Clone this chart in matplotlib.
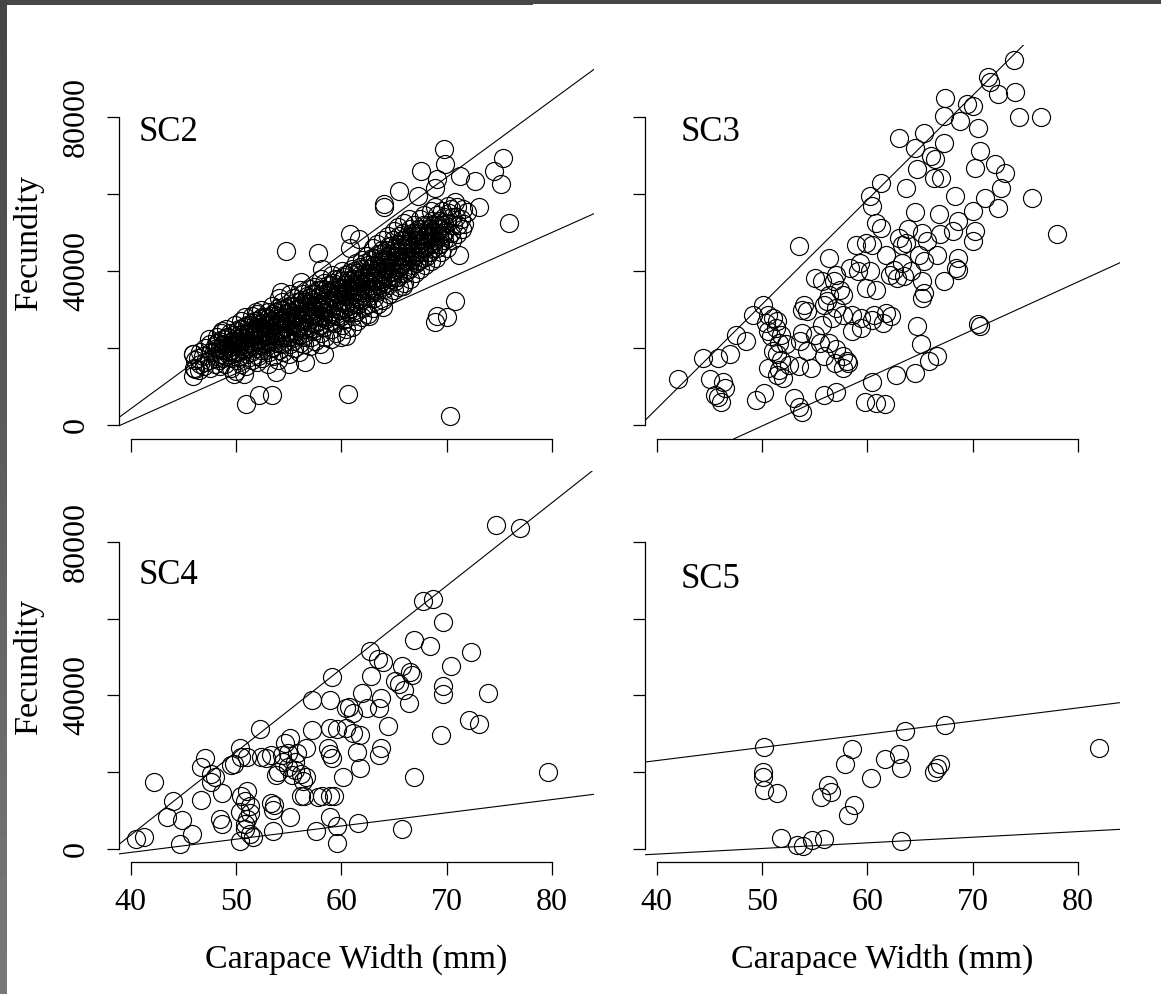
import matplotlib
matplotlib.use("Agg")
import matplotlib.pyplot as plt
import numpy as np

plt.rcParams['font.family'] = ['Liberation Serif', 'DejaVu Serif']

# carapace width (mm) and fecundity (thousands of eggs)
sc2_cw = [
    46.0, 46.1, 45.9,
    46.5, 46.6, 46.4, 46.6,
    47.0, 47.1, 46.9, 47.1,
    47.5, 47.4, 47.6, 47.5, 47.4,
    48.0, 48.1, 47.9, 48.0, 48.2,
    48.5, 48.4, 48.6, 48.5, 48.4, 48.6,
    49.0, 49.1, 48.9, 49.0, 49.2, 49.1,
    49.5, 49.6, 49.4, 49.5, 49.6, 49.4,
    50.0, 50.1, 49.9, 50.0, 50.2, 50.1, 49.9,
    50.5, 50.4, 50.6, 50.5, 50.4, 50.6, 50.5,
    51.0, 51.1, 50.9, 51.0, 51.2, 51.1, 50.9,
    51.5, 51.4, 51.6, 51.5, 51.4, 51.6, 51.5,
    52.0, 52.1, 51.9, 52.0, 52.2, 52.1, 51.9, 52.0,
    52.5, 52.4, 52.6, 52.5, 52.4, 52.6, 52.5, 52.4,
    53.0, 53.1, 52.9, 53.0, 53.2, 53.1, 52.9, 53.0,
    53.5, 53.4, 53.6, 53.5, 53.4, 53.6, 53.5, 53.4,
    54.0, 54.1, 53.9, 54.0, 54.2, 54.1, 53.9, 54.0, 54.1,
    54.5, 54.4, 54.6, 54.5, 54.4, 54.6, 54.5, 54.4,
    55.0, 55.1, 54.9, 55.0, 55.2, 55.1, 54.9, 55.0, 55.1,
    55.5, 55.4, 55.6, 55.5, 55.4, 55.6, 55.5, 55.4,
    56.0, 56.1, 55.9, 56.0, 56.2, 56.1, 55.9, 56.0, 56.1,
    56.5, 56.4, 56.6, 56.5, 56.4, 56.6, 56.5, 56.4,
    57.0, 57.1, 56.9, 57.0, 57.2, 57.1, 56.9, 57.0,
    57.5, 57.4, 57.6, 57.5, 57.4, 57.6, 57.5, 57.4,
    58.0, 58.1, 57.9, 58.0, 58.2, 58.1, 57.9, 58.0, 58.1,
    58.5, 58.4, 58.6, 58.5, 58.4, 58.6, 58.5, 58.4,
    59.0, 59.1, 58.9, 59.0, 59.2, 59.1, 58.9, 59.0, 59.1,
    59.5, 59.4, 59.6, 59.5, 59.4, 59.6, 59.5, 59.4,
    60.0, 60.1, 59.9, 60.0, 60.2, 60.1, 59.9, 60.0, 60.1,
    60.5, 60.4, 60.6, 60.5, 60.4, 60.6, 60.5, 60.4,
    61.0, 61.1, 60.9, 61.0, 61.2, 61.1, 60.9, 61.0,
    61.5, 61.4, 61.6, 61.5, 61.4, 61.6, 61.5, 61.4,
    62.0, 62.1, 61.9, 62.0, 62.2, 62.1, 61.9, 62.0,
    62.5, 62.4, 62.6, 62.5, 62.4, 62.6, 62.5, 62.4,
    63.0, 63.1, 62.9, 63.0, 63.2, 63.1, 62.9, 63.0,
    63.5, 63.4, 63.6, 63.5, 63.4, 63.6, 63.5, 63.4,
    64.0, 64.1, 63.9, 64.0, 64.2, 64.1, 63.9, 64.0,
    64.5, 64.4, 64.6, 64.5, 64.4, 64.6, 64.5, 64.4,
    65.0, 65.1, 64.9, 65.0, 65.2, 65.1, 64.9, 65.0,
    65.5, 65.4, 65.6, 65.5, 65.4, 65.6, 65.5, 65.4,
    66.0, 66.1, 65.9, 66.0, 66.2, 66.1, 65.9, 66.0,
    66.5, 66.4, 66.6, 66.5, 66.4, 66.6, 66.5, 66.4,
    67.0, 67.1, 66.9, 67.0, 67.2, 67.1, 66.9,
    67.5, 67.4, 67.6, 67.5, 67.4, 67.6, 67.5,
    68.0, 68.1, 67.9, 68.0, 68.2, 68.1, 67.9,
    68.5, 68.4, 68.6, 68.5, 68.4, 68.6, 68.5,
    69.0, 69.1, 68.9, 69.0, 69.2, 69.1, 68.9,
    69.5, 69.4, 69.6, 69.5, 69.4, 69.6,
    70.0, 70.1, 69.9, 70.0, 70.2, 70.1,
    70.5, 70.4, 70.6, 70.5, 70.4,
    71.0, 71.1, 70.9, 71.0,
    71.5, 71.4, 71.6,
    # scattered points around the band
    69.75, 69.9, 75.4, 74.5, 75.2, 75.9, 73.1, 72.7, 71.3, 67.6, 69.1, 68.9,
    65.5, 64.1, 64.1, 67.3, 70.8, 71.9, 71.7, 71.2, 70.8, 68.9, 70.0, 69.1,
    70.3, 60.6, 54.8, 57.8, 60.8, 60.8, 52.2, 53.4, 51.0, 45.9, 45.9, 46.1,
    48.7, 49.8, 50.8, 53.8, 55.0, 56.6, 58.4, 60.5, 62.6, 64.0, 65.9, 54.3,
    51.9, 56.2, 58.2, 61.7,
    # dense core of the band
    48.25, 48.25, 48.25,
    48.75, 48.75, 48.75, 48.75,
    49.25, 49.25, 49.25, 49.25,
    49.75, 49.75, 49.75, 49.75,
    50.25, 50.25, 50.25, 50.25, 50.25,
    50.75, 50.75, 50.75, 50.75, 50.75,
    51.25, 51.25, 51.25, 51.25, 51.25,
    51.75, 51.75, 51.75, 51.75, 51.75,
    52.25, 52.25, 52.25, 52.25, 52.25,
    52.75, 52.75, 52.75, 52.75, 52.75,
    53.25, 53.25, 53.25, 53.25, 53.25,
    53.75, 53.75, 53.75, 53.75, 53.75,
    54.25, 54.25, 54.25, 54.25, 54.25,
    54.75, 54.75, 54.75, 54.75, 54.75,
    55.25, 55.25, 55.25, 55.25, 55.25,
    55.75, 55.75, 55.75, 55.75, 55.75,
    56.25, 56.25, 56.25, 56.25, 56.25,
    56.75, 56.75, 56.75, 56.75, 56.75,
    57.25, 57.25, 57.25, 57.25, 57.25,
    57.75, 57.75, 57.75, 57.75, 57.75,
    58.25, 58.25, 58.25, 58.25, 58.25,
    58.75, 58.75, 58.75, 58.75, 58.75,
    59.25, 59.25, 59.25, 59.25, 59.25,
    59.75, 59.75, 59.75, 59.75, 59.75,
    60.25, 60.25, 60.25, 60.25, 60.25,
    60.75, 60.75, 60.75, 60.75, 60.75,
    61.25, 61.25, 61.25, 61.25, 61.25,
    61.75, 61.75, 61.75, 61.75, 61.75,
    62.25, 62.25, 62.25, 62.25, 62.25,
    62.75, 62.75, 62.75, 62.75, 62.75,
    63.25, 63.25, 63.25, 63.25, 63.25,
    63.75, 63.75, 63.75, 63.75, 63.75,
    64.25, 64.25, 64.25, 64.25, 64.25,
    64.75, 64.75, 64.75, 64.75, 64.75,
    65.25, 65.25, 65.25, 65.25, 65.25,
    65.75, 65.75, 65.75, 65.75, 65.75,
    66.25, 66.25, 66.25, 66.25, 66.25,
    66.75, 66.75, 66.75, 66.75, 66.75,
    67.25, 67.25, 67.25, 67.25, 67.25,
    67.75, 67.75, 67.75, 67.75, 67.75,
    68.25, 68.25, 68.25, 68.25,
    68.75, 68.75, 68.75, 68.75,
    69.25, 69.25, 69.25, 69.25,
    69.75, 69.75, 69.75, 69.75,
]
sc2_fec = [
    15.0, 17.0, 18.5,
    14.5, 16.0, 17.5, 19.0,
    15.5, 16.5, 18.0, 20.0,
    15.0, 17.0, 19.0, 21.0, 22.5,
    16.0, 17.5, 19.0, 20.5, 23.0,
    15.5, 17.0, 18.5, 20.0, 22.0, 24.0,
    16.0, 18.0, 19.5, 21.0, 23.0, 25.0,
    15.0, 17.5, 19.0, 20.5, 22.0, 24.0,
    14.0, 17.0, 19.0, 21.0, 22.5, 24.5, 26.0,
    16.0, 18.0, 20.0, 21.5, 23.0, 25.0, 27.0,
    15.5, 18.5, 20.5, 22.0, 24.0, 26.0, 28.0,
    17.0, 19.0, 21.0, 23.0, 24.5, 26.5, 28.5,
    16.5, 18.0, 20.0, 22.0, 23.5, 25.0, 27.0, 29.0,
    17.5, 19.5, 21.5, 23.0, 25.0, 26.5, 28.0, 30.0,
    16.0, 19.0, 21.0, 22.5, 24.0, 26.0, 28.0, 29.5,
    18.0, 20.0, 22.0, 24.0, 25.5, 27.0, 29.0, 31.0,
    17.0, 19.5, 21.5, 23.5, 25.0, 27.0, 28.5, 30.5, 33.0,
    19.0, 21.0, 23.0, 25.0, 26.5, 28.0, 30.0, 32.0,
    18.5, 21.0, 23.0, 24.5, 26.0, 28.0, 29.5, 31.0, 34.0,
    20.0, 22.0, 24.0, 26.0, 27.5, 29.0, 31.0, 33.0,
    19.0, 21.5, 23.5, 25.5, 27.0, 29.0, 30.5, 32.0, 35.0,
    21.0, 23.0, 25.0, 27.0, 28.5, 30.0, 32.0, 34.0,
    20.5, 23.0, 25.5, 27.5, 29.0, 31.0, 33.0, 35.5,
    22.0, 24.5, 26.5, 28.5, 30.0, 32.0, 34.0, 36.0,
    21.0, 24.0, 26.0, 28.0, 30.0, 31.5, 33.5, 35.0, 38.0,
    23.0, 25.5, 27.5, 29.5, 31.0, 33.0, 35.0, 37.0,
    22.5, 25.0, 27.0, 29.0, 31.0, 33.0, 34.5, 36.5, 39.0,
    24.0, 26.5, 28.5, 30.5, 32.5, 34.0, 36.0, 38.0,
    23.0, 26.0, 28.0, 30.0, 32.0, 34.0, 35.5, 37.5, 40.0,
    25.0, 27.5, 29.5, 31.5, 33.5, 35.0, 37.0, 39.0,
    25.5, 28.5, 30.5, 32.5, 34.5, 36.5, 38.0, 40.5,
    27.0, 29.5, 31.5, 33.5, 35.5, 37.5, 39.5, 42.0,
    28.0, 30.5, 32.5, 34.5, 36.5, 38.5, 40.5, 43.0,
    29.0, 31.5, 33.5, 35.5, 37.5, 39.5, 41.5, 44.0,
    30.5, 33.0, 35.5, 37.5, 39.5, 41.5, 43.5, 46.0,
    31.5, 34.5, 36.5, 38.5, 40.5, 42.5, 44.5, 47.0,
    32.5, 35.5, 37.5, 39.5, 41.5, 43.5, 45.5, 48.0,
    34.0, 36.5, 38.5, 40.5, 42.5, 44.5, 46.5, 49.0,
    35.0, 37.5, 40.0, 42.0, 44.0, 46.0, 48.0, 50.5,
    36.0, 38.5, 41.0, 43.0, 45.0, 47.0, 49.0, 51.5,
    37.0, 39.5, 42.0, 44.0, 46.0, 48.0, 50.0, 52.5,
    38.0, 40.5, 43.0, 45.0, 47.0, 49.0, 51.0, 53.5,
    39.5, 42.0, 44.0, 46.0, 48.0, 50.0, 52.0,
    40.5, 43.0, 45.0, 47.0, 49.0, 51.0, 53.5,
    41.5, 44.0, 46.0, 48.0, 50.0, 52.0, 54.5,
    42.5, 45.0, 47.0, 49.0, 51.0, 53.0, 55.5,
    43.5, 46.0, 48.0, 50.0, 52.0, 54.5, 56.5,
    45.0, 47.0, 49.0, 51.0, 53.0, 55.5,
    46.0, 48.5, 50.5, 52.5, 55.0, 57.0,
    48.0, 50.0, 52.0, 54.0, 56.0,
    49.5, 52.0, 54.0, 56.5,
    51.0, 53.5, 56.0,
    71.7, 67.7, 69.4, 65.9, 62.5, 52.4, 56.5, 63.4, 64.7, 65.9, 63.8, 61.6,
    60.8, 57.3, 56.5, 59.5, 57.8, 55.2, 52.2, 44.1, 32.3, 26.7, 28.0, 28.4,
    2.4, 8.2, 45.3, 44.8, 49.6, 46.1, 7.8, 7.8, 5.6, 18.5, 12.9, 14.7,
    24.6, 13.4, 13.4, 13.8, 15.9, 16.4, 18.5, 23.3, 28.4, 30.6, 36.2, 34.5,
    29.3, 37.1, 40.5, 48.3,
    18.0, 20.0, 21.5,
    17.5, 19.5, 21.0, 22.5,
    18.5, 20.0, 21.5, 23.0,
    19.0, 20.5, 22.0, 23.5,
    19.0, 20.5, 22.0, 23.5, 25.0,
    19.5, 21.0, 22.5, 24.0, 25.5,
    20.0, 21.5, 23.0, 24.5, 26.0,
    20.5, 22.0, 23.5, 25.0, 27.0,
    21.0, 22.5, 24.0, 25.5, 27.5,
    21.5, 23.0, 24.5, 26.0, 28.0,
    22.0, 23.5, 25.0, 27.0, 28.5,
    22.5, 24.0, 26.0, 27.5, 29.5,
    23.0, 24.5, 26.5, 28.0, 30.0,
    23.5, 25.5, 27.0, 29.0, 30.5,
    24.0, 26.0, 27.5, 29.5, 31.0,
    24.5, 26.5, 28.5, 30.0, 32.0,
    25.0, 27.0, 29.0, 31.0, 32.5,
    26.0, 28.0, 29.5, 31.5, 33.5,
    26.5, 28.5, 30.5, 32.5, 34.0,
    27.0, 29.0, 31.0, 33.0, 35.0,
    28.0, 30.0, 32.0, 34.0, 35.5,
    28.5, 30.5, 32.5, 34.5, 36.5,
    29.0, 31.0, 33.0, 35.0, 37.0,
    30.0, 32.0, 34.0, 36.0, 38.0,
    30.5, 32.5, 34.5, 36.5, 38.5,
    31.0, 33.5, 35.5, 37.5, 39.5,
    32.0, 34.0, 36.0, 38.0, 40.0,
    33.0, 35.0, 37.0, 39.0, 41.0,
    33.5, 35.5, 37.5, 39.5, 42.0,
    34.5, 36.5, 38.5, 40.5, 43.0,
    35.0, 37.5, 39.5, 41.5, 43.5,
    36.0, 38.0, 40.0, 42.5, 44.5,
    37.0, 39.0, 41.0, 43.0, 45.5,
    38.0, 40.0, 42.0, 44.0, 46.5,
    38.5, 41.0, 43.0, 45.0, 47.0,
    39.5, 42.0, 44.0, 46.0, 48.0,
    40.5, 43.0, 45.0, 47.0, 49.0,
    41.5, 44.0, 46.0, 48.0, 50.0,
    42.5, 45.0, 47.0, 49.0, 51.0,
    43.5, 46.0, 48.0, 50.0, 52.0,
    45.0, 47.0, 49.0, 51.0,
    46.0, 48.0, 50.0, 52.0,
    47.0, 49.0, 51.0, 53.0,
    48.0, 50.0, 52.0, 54.0,
]

sc3_cw = [
    73.9, 71.5, 71.7, 72.4, 74.0, 74.4, 76.5, 67.4, 69.5, 70.0, 67.3, 68.8,
    70.5, 65.4, 63.0, 67.3, 64.5, 66.1, 66.4, 70.7, 70.2, 72.1, 73.1, 64.7,
    66.3, 67.0, 61.3, 63.7, 60.3, 68.3, 71.2, 72.7, 75.6, 72.4, 64.5, 66.8,
    70.0, 60.5, 68.6, 60.8, 63.9, 61.3, 68.1, 70.2, 65.2, 66.9, 63.0, 63.7,
    63.3, 59.9, 58.9, 60.5, 65.7, 70.0, 78.0, 64.9, 66.6, 68.6, 68.4, 68.6,
    61.8, 63.3, 65.4, 59.3, 56.4, 53.5, 62.5, 62.2, 62.8, 63.5, 64.2, 65.2,
    65.4, 65.2, 67.3, 60.3, 59.1, 59.9, 60.8, 58.4, 57.0, 55.0, 55.7, 56.8,
    57.4, 56.4, 57.7, 54.0, 53.8, 54.3, 55.9, 56.2, 57.0, 57.7, 58.6, 59.4,
    60.6, 61.8, 62.3, 61.5, 60.5, 59.4, 58.6, 56.7, 55.7, 55.0, 53.8, 50.1,
    49.2, 50.6, 51.1, 51.4, 50.4, 51.3, 50.6, 50.9, 51.8, 51.6, 52.3, 51.1,
    51.4, 51.8, 50.6, 51.6, 51.4, 52.0, 52.6, 53.5, 54.7, 53.6, 54.3, 55.5,
    56.4, 57.0, 55.9, 56.9, 57.7, 58.2, 57.7, 58.1, 48.5, 47.5, 47.0, 45.8,
    44.4, 42.0, 45.1, 46.3, 46.5, 45.5, 45.8, 46.1, 49.4, 50.2, 53.0, 53.5,
    53.8, 55.9, 57.0, 59.8, 60.8, 61.7, 60.5, 62.7, 64.5, 65.9, 66.6, 65.1,
    64.7, 70.5, 70.7,
]
sc3_fec = [
    94.8, 90.2, 88.9, 85.9, 86.3, 80.0, 80.0, 84.8, 83.3, 82.9, 80.3, 79.0,
    77.2, 75.9, 74.6, 73.3, 72.0, 69.9, 69.0, 71.2, 66.8, 67.7, 65.5, 66.4,
    64.2, 64.2, 62.9, 61.6, 59.5, 59.5, 59.0, 61.6, 59.0, 56.4, 55.2, 54.7,
    55.6, 56.9, 53.0, 52.6, 50.8, 51.3, 50.4, 50.4, 50.0, 49.5, 48.7, 47.4,
    46.9, 47.4, 46.9, 46.9, 47.8, 47.8, 49.5, 44.3, 44.3, 43.5, 40.9, 40.4,
    44.3, 42.2, 42.6, 42.2, 43.5, 46.5, 40.4, 39.1, 38.3, 38.7, 40.0, 37.4,
    34.4, 33.1, 37.4, 40.0, 40.0, 35.7, 35.2, 40.9, 39.1, 38.3, 37.4, 37.4,
    35.2, 33.9, 33.9, 31.3, 30.0, 29.6, 31.3, 32.2, 30.5, 28.7, 28.7, 27.9,
    28.7, 29.2, 28.3, 26.6, 27.4, 25.3, 24.4, 27.9, 26.1, 23.5, 24.0, 31.3,
    28.7, 28.7, 27.9, 27.0, 26.6, 25.3, 24.4, 23.1, 23.5, 21.4, 21.0, 19.2,
    18.4, 17.1, 14.9, 14.5, 13.2, 12.3, 15.8, 15.3, 14.9, 21.8, 19.2, 21.4,
    21.4, 19.7, 17.9, 16.2, 17.9, 16.2, 14.9, 16.6, 21.8, 23.5, 18.4, 17.5,
    17.5, 12.1, 12.1, 11.4, 9.7, 8.0, 7.3, 6.2, 6.7, 8.4, 7.1, 4.9,
    3.6, 8.0, 8.8, 6.2, 5.8, 5.5, 11.4, 13.2, 13.6, 16.6, 17.9, 21.0,
    25.7, 26.3, 25.7,
]

sc4_cw = [
    74.65, 76.98, 67.8, 68.7, 69.7, 66.9, 68.4, 72.3, 70.4, 69.7, 69.7, 73.9,
    72.1, 73.1, 69.5, 79.6, 66.9, 65.8, 62.7, 63.5, 64.0, 65.8, 66.7, 65.1,
    65.5, 66.0, 66.4, 62.8, 62.0, 63.8, 63.6, 64.4, 63.8, 63.6, 61.8, 61.5,
    61.8, 60.5, 61.1, 62.4, 59.6, 60.5, 59.1, 58.9, 57.2, 57.2, 58.9, 58.7,
    58.9, 59.1, 60.2, 59.3, 58.2, 56.5, 56.7, 56.2, 56.4, 55.6, 55.6, 55.1,
    54.7, 54.9, 54.4, 54.5, 54.0, 53.8, 54.9, 55.3, 56.7, 55.8, 52.9, 52.4,
    52.3, 53.3, 53.3, 53.6, 53.5, 53.5, 55.1, 51.3, 51.1, 50.9, 50.9, 51.3,
    51.6, 50.4, 50.5, 51.1, 50.4, 51.3, 50.9, 49.5, 49.8, 50.4, 50.5, 51.1,
    48.7, 48.5, 48.7, 48.0, 47.6, 47.6, 46.7, 47.1, 46.7, 45.8, 44.7, 44.9,
    44.0, 43.5, 42.2, 40.5, 41.3, 59.6, 59.6, 58.9, 57.6, 61.6, 58.9, 66.5,
    60.7, 61.1, 56.2, 57.8,
]
sc4_fec = [
    84.5, 83.8, 64.7, 65.1, 59.2, 54.6, 53.0, 51.4, 47.6, 42.4, 40.4, 40.6,
    33.6, 32.5, 29.6, 20.1, 18.8, 5.1, 51.7, 49.6, 48.7, 47.8, 45.3, 43.8,
    42.9, 41.5, 37.9, 45.1, 40.6, 39.3, 36.6, 32.1, 26.2, 24.4, 29.7, 25.3,
    21.0, 36.6, 35.4, 36.6, 31.2, 31.6, 44.9, 38.7, 38.8, 30.9, 31.6, 26.2,
    24.6, 23.7, 18.6, 13.7, 13.8, 13.8, 18.6, 19.5, 17.7, 22.7, 20.4, 28.9,
    27.6, 24.9, 24.5, 22.7, 20.0, 19.1, 21.3, 19.1, 26.2, 24.9, 23.6, 24.0,
    31.2, 24.5, 11.9, 11.4, 10.1, 4.7, 8.3, 11.0, 7.8, 6.5, 5.1, 3.8,
    2.9, 2.0, 13.7, 15.0, 9.6, 9.2, 12.3, 21.8, 22.2, 26.2, 24.0, 24.0,
    14.6, 7.6, 6.5, 18.6, 19.5, 17.3, 21.3, 23.6, 12.8, 3.8, 1.1, 7.4,
    12.3, 8.3, 17.3, 2.4, 2.9, 1.5, 6.0, 8.3, 4.7, 6.7, 13.7, 46.0,
    37.0, 30.3, 13.7, 13.4,
]

sc5_cw = [
    50.2, 50.1, 50.1, 50.2, 51.4, 51.8, 53.3, 53.9, 54.8, 55.9, 55.6, 56.3,
    56.6, 58.7, 58.2, 57.9, 58.6, 60.4, 61.7, 63.0, 63.2, 63.6, 63.2, 66.3,
    66.6, 66.9, 67.4, 82.0,
]
sc5_fec = [
    26.5, 19.9, 18.7, 15.4, 14.5, 2.7, 0.9, 0.6, 2.3, 2.4, 13.6, 16.5,
    14.9, 11.3, 8.8, 22.2, 26.0, 18.4, 23.5, 24.6, 21.0, 30.7, 2.1, 19.9,
    21.1, 22.2, 32.4, 26.2,
]

# fitted lines per panel: (intercept, slope) in thousands of eggs
sc2_lines = [(-75.7, 2.00), (-47.5, 1.219)]
sc3_lines = [(-104.0, 2.707), (-62.4, 1.245)]
sc4_lines = [(-83.3, 2.17), (-14.8, 0.345)]
sc5_lines = [(9.22, 0.344), (-7.32, 0.147)]

panel_names = ["SC2", "SC3", "SC4", "SC5"]
label_pos = [(40.8, 76.0), (42.3, 75.8), (40.8, 71.2), (42.3, 70.3)]

x_ticks = [40, 50, 60, 70, 80]
y_ticks = [0, 20000, 40000, 60000, 80000]
y_ticklabels = ["0", "", "40000", "", "80000"]

W, H = 1161, 994
fig = plt.figure(figsize=(W / 100, H / 100), dpi=100)

# screenshot border strips
strip_top = fig.add_axes([0, 1 - 5 / H, 533 / W, 5 / H])
strip_top.axis("off")
strip_top.add_patch(plt.Rectangle((0, 0), 1, 1, color="#474747", transform=strip_top.transAxes))
strip_top2 = fig.add_axes([533 / W, 1 - 4 / H, 1 - 533 / W, 4 / H])
strip_top2.axis("off")
strip_top2.add_patch(plt.Rectangle((0, 0), 1, 1, color="#474747", transform=strip_top2.transAxes))
strip_left = fig.add_axes([0, 0, 7 / W, 1])
strip_left.axis("off")
strip_left.imshow(np.linspace(0.27, 0.47, 50).reshape(-1, 1), cmap="gray", vmin=0, vmax=1,
                  aspect="auto", extent=(0, 1, 0, 1), origin="upper")

lefts = [119 / W, 645 / W]
boxes = [
    (lefts[0], 1 - 439 / H, 475 / W, 394 / H),
    (lefts[1], 1 - 439 / H, 475 / W, 394 / H),
    (lefts[0], 1 - 862 / H, 475 / W, 391 / H),
    (lefts[1], 1 - 862 / H, 475 / W, 391 / H),
]
datasets = [(sc2_cw, sc2_fec, sc2_lines), (sc3_cw, sc3_fec, sc3_lines),
            (sc4_cw, sc4_fec, sc4_lines), (sc5_cw, sc5_fec, sc5_lines)]

for i, (cw, fec, lines) in enumerate(datasets):
    ax = fig.add_axes(boxes[i])
    ax.plot(cw, np.array(fec) * 1000, linestyle="none", marker="o", ms=13,
            mfc="none", mec="black", mew=0.85)
    for a, b in lines:
        ax.axline((0, a * 1000), slope=b * 1000, color="black", lw=0.8)
    ax.set_xlim(38.9, 84.0)
    ax.set_ylim(-3500, 98600)
    for s in ["top", "right"]:
        ax.spines[s].set_visible(False)
    ax.spines["left"].set_bounds(0, 80000)
    ax.spines["bottom"].set_bounds(40, 80)
    for s in ["left", "bottom"]:
        ax.spines[s].set_linewidth(0.9)
    ax.set_xticks(x_ticks)
    ax.set_yticks(y_ticks)
    ax.tick_params(length=9, width=0.9, labelsize=23)
    ax.tick_params(axis="x", pad=10)
    ax.tick_params(axis="y", pad=11)
    if i % 2 == 0:
        ax.set_yticklabels(y_ticklabels, rotation=90, va="center")
        ax.set_ylabel("Fecundity", fontsize=24.5, labelpad=13)
    else:
        ax.set_yticklabels([])
    if i < 2:
        ax.set_xticklabels([])
    else:
        ax.set_xlabel("Carapace Width (mm)", fontsize=24.5, labelpad=19)
    ax.text(label_pos[i][0], label_pos[i][1] * 1000, panel_names[i], fontsize=25,
            ha="left", va="center")

fig.savefig("out.png", dpi=100)
